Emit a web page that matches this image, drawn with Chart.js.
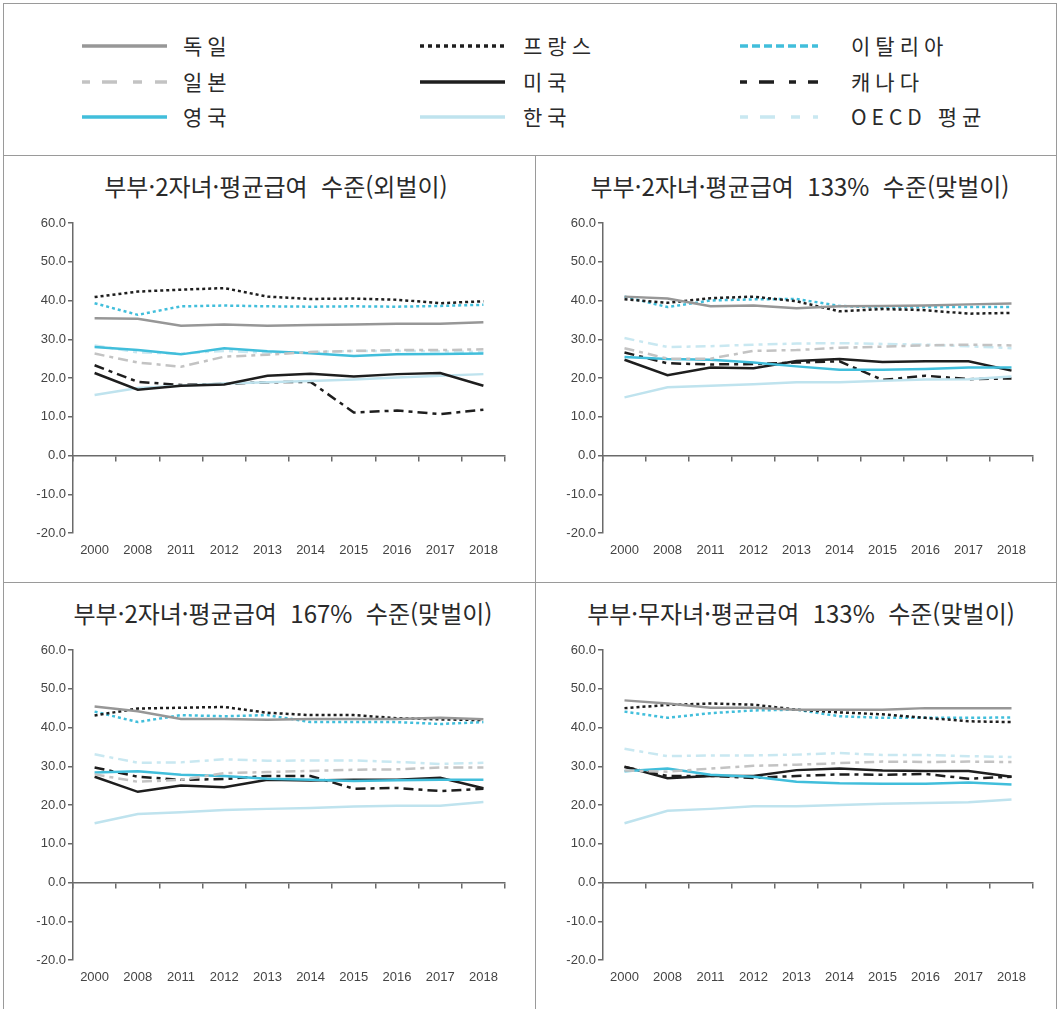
<!DOCTYPE html>
<html lang="ko">
<head>
<meta charset="utf-8">
<script src="https://cdn.jsdelivr.net/npm/chart.js@4.4.1/dist/chart.umd.min.js"></script>
<style>
  body { margin: 0; background: #fff; width: 1060px; height: 1009px; overflow: hidden; position: relative; font-family: "Noto Sans CJK KR", sans-serif; color: #2a2a2a; }
  .line { position: absolute; background: #9a9a9a; }
  .sw { position: absolute; }
  .lbl { position: absolute; font-size: 21px; letter-spacing: 5px; line-height: 30px; white-space: pre; }
  .title { position: absolute; font-size: 24px; white-space: pre; transform: translate(-50%, -50%); }
  .panel { position: absolute; }
</style>
</head>
<body>
<div class="line" style="left:3px;top:3px;width:1054px;height:1px"></div>
<div class="line" style="left:3px;top:3px;width:1px;height:1010px"></div>
<div class="line" style="left:1056px;top:3px;width:1px;height:1010px"></div>
<div class="line" style="left:3px;top:155px;width:1054px;height:1px"></div>
<div class="line" style="left:3px;top:582px;width:1054px;height:1px"></div>
<div class="line" style="left:535px;top:155px;width:1px;height:860px"></div>
<div id="legend"></div>

<script>
// ===== DADOS =====
const years = ['2000', '2008', '2011', '2012', '2013', '2014', '2015', '2016', '2017', '2018'];
const seriesNames = ['독일', '일본', '영국', '프랑스', '미국', '한국', '이탈리아', '캐나다', 'OECD 평균'];
const titles = [
  '부부·2자녀·평균급여  수준(외벌이)',
  '부부·2자녀·평균급여  133%  수준(맞벌이)',
  '부부·2자녀·평균급여  167%  수준(맞벌이)',
  '부부·무자녀·평균급여  133%  수준(맞벌이)'
];

// uma linha por painel (1..4)
const germany = [
  [35.4, 35.3, 33.5, 33.8, 33.5, 33.7, 33.8, 34.0, 34.0, 34.4],
  [41.0, 40.5, 38.5, 38.7, 38.0, 38.5, 38.6, 38.7, 39.0, 39.2],
  [45.4, 44.2, 42.2, 42.2, 42.0, 42.2, 42.2, 42.2, 42.5, 42.1],
  [47.0, 46.2, 45.1, 45.1, 44.6, 44.6, 44.6, 45.0, 45.0, 45.0]
];
const japan = [
  [26.3, 24.0, 22.9, 25.5, 26.0, 26.7, 27.0, 27.2, 27.2, 27.4],
  [27.7, 25.0, 25.0, 27.0, 27.2, 27.8, 28.1, 28.4, 28.6, 28.4],
  [27.9, 26.0, 26.5, 28.2, 28.5, 28.8, 29.1, 29.2, 29.7, 29.7],
  [28.9, 28.6, 29.4, 30.1, 30.4, 30.8, 31.2, 31.1, 31.2, 31.1]
];
const uk = [
  [28.0, 27.2, 26.1, 27.7, 26.9, 26.4, 25.7, 26.1, 26.2, 26.3],
  [25.4, 24.9, 24.7, 24.0, 23.0, 22.1, 22.1, 22.3, 22.7, 22.7],
  [28.4, 28.7, 27.8, 27.5, 26.8, 26.5, 26.2, 26.4, 26.5, 26.5],
  [28.7, 29.4, 27.8, 27.3, 26.0, 25.6, 25.5, 25.5, 25.8, 25.3]
];
const france = [
  [40.9, 42.3, 42.8, 43.2, 41.0, 40.4, 40.5, 40.2, 39.3, 39.8],
  [40.3, 39.4, 40.6, 41.0, 39.8, 37.2, 37.8, 37.5, 36.6, 36.8],
  [43.1, 44.9, 45.1, 45.3, 43.8, 43.2, 43.2, 42.4, 42.1, 41.9],
  [45.0, 45.8, 46.2, 45.9, 44.6, 43.9, 43.4, 42.5, 41.6, 41.4]
];
const usa = [
  [21.3, 17.0, 18.0, 18.3, 20.6, 21.1, 20.4, 21.0, 21.3, 18.0],
  [24.7, 20.7, 22.7, 22.5, 24.4, 24.9, 24.1, 24.3, 24.3, 21.9],
  [27.3, 23.4, 25.0, 24.6, 26.5, 26.3, 26.5, 26.5, 27.0, 24.3],
  [29.9, 26.9, 27.5, 27.5, 29.0, 29.4, 28.9, 28.8, 28.8, 27.3]
];
const korea = [
  [15.6, 17.4, 18.0, 18.6, 18.9, 19.2, 19.6, 20.1, 20.6, 21.0],
  [15.0, 17.6, 18.0, 18.4, 18.9, 18.9, 19.3, 19.6, 19.7, 20.4],
  [15.3, 17.7, 18.1, 18.7, 19.0, 19.2, 19.6, 19.8, 19.8, 20.8],
  [15.3, 18.5, 19.0, 19.7, 19.7, 20.0, 20.3, 20.5, 20.7, 21.4]
];
const italy = [
  [39.3, 36.3, 38.5, 38.7, 38.5, 38.4, 38.5, 38.4, 38.6, 38.9],
  [41.0, 38.3, 40.0, 40.3, 40.4, 38.6, 38.2, 38.3, 38.3, 38.3],
  [44.1, 41.4, 43.2, 42.9, 43.2, 41.4, 41.4, 41.4, 40.9, 41.4],
  [44.1, 42.5, 43.7, 44.4, 44.6, 42.9, 42.5, 42.5, 42.5, 42.6]
];
const canada = [
  [23.3, 19.0, 18.2, 18.5, 18.9, 19.0, 11.1, 11.6, 10.7, 11.8],
  [26.6, 23.8, 23.5, 23.6, 24.0, 24.3, 19.5, 20.6, 19.7, 19.9],
  [29.7, 27.3, 26.5, 26.7, 27.5, 27.5, 24.2, 24.4, 23.6, 24.2],
  [29.8, 27.5, 27.5, 27.0, 27.5, 27.9, 27.8, 28.0, 26.8, 27.3]
];
const oecd = [
  [28.4, 26.6, 26.3, 27.0, 26.5, 26.7, 27.0, 27.0, 26.9, 26.7],
  [30.3, 28.0, 28.2, 28.6, 28.9, 29.0, 28.8, 28.6, 28.2, 27.7],
  [33.1, 30.9, 31.0, 31.8, 31.4, 31.5, 31.5, 31.1, 30.6, 30.9],
  [34.5, 32.6, 32.8, 32.8, 33.0, 33.4, 32.9, 32.9, 32.6, 32.4]
];
const allSeries = [germany, japan, uk, france, usa, korea, italy, canada, oecd];

// ===== ESTILOS =====
const colors = ['#979797', '#c3c3c3', '#41bedb', '#1e1e1e', '#1e1e1e', '#bfe3ee', '#41bedb', '#1e1e1e', '#c9e8f1'];
const dashes = [[], [10, 5, 4, 5], [], [3, 3], [], [], [3, 3], [10, 5, 4, 5], [10, 5, 4, 5]];
const legendDashes = [[], [8, 12, 15, 16, 9, 13, 12], [], [4, 4], [], [], [8, 4], [7, 12, 15, 15, 7, 12, 12], [8, 12, 15, 16, 9, 13, 12]];

// posições dos painéis
const panels = [
  { left: 4, top: 156, w: 531, h: 426, yW: 69, rPad: 30, tx: 276, ty: 185 },
  { left: 536, top: 156, w: 520, h: 426, yW: 67, rPad: 23, tx: 800, ty: 185 },
  { left: 4, top: 583, w: 531, h: 426, yW: 69, rPad: 30, tx: 283, ty: 612 },
  { left: 536, top: 583, w: 520, h: 426, yW: 67, rPad: 23, tx: 801, ty: 612 }
];

// ===== LEGENDA =====
const legendCols = [[82, 167, 183], [420, 505, 523], [740, 818, 851]];
const legendRows = [46, 82, 117];
document.getElementById('legend').innerHTML = seriesNames.map((n, k) => {
  const col = legendCols[Math.floor(k / 3)], y = legendRows[k % 3];
  const w = col[1] - col[0];
  return '<svg class=sw style="left:' + col[0] + 'px;top:' + (y - 3) + 'px" width="' + w + '" height="6">' +
      '<line x1="0" y1="3" x2="' + w + '" y2="3" stroke="' + colors[k] + '" stroke-width="3.5"' +
      (legendDashes[k].length ? ' stroke-dasharray="' + legendDashes[k].join(',') + '"' : '') + '/></svg>' +
    '<div class=lbl style="left:' + col[2] + 'px;top:' + (y - 16) + 'px">' + n + '</div>';
}).join('');

// ===== GRÁFICOS =====
const tickFont = { family: '"Liberation Sans", sans-serif', size: 13 };
const axisColor = '#6a6a6a';

panels.forEach((p, i) => {
  const t = document.createElement('div');
  t.className = 'title';
  t.style.left = p.tx + 'px';
  t.style.top = p.ty + 'px';
  t.textContent = titles[i];
  document.body.appendChild(t);

  const c = document.createElement('canvas');
  c.className = 'panel';
  c.width = p.w; c.height = p.h;
  c.style.left = p.left + 'px';
  c.style.top = p.top + 'px';
  document.body.appendChild(c);

  new Chart(c, {
    type: 'line',
    data: {
      labels: years,
      datasets: allSeries.map((s, k) => ({
        label: seriesNames[k], data: s[i], xAxisID: 'x', yAxisID: 'y',
        borderColor: colors[k], borderDash: dashes[k], borderWidth: 2.5,
        pointRadius: 0, tension: 0, fill: false
      }))
    },
    options: {
      responsive: false, animation: false,
      layout: { padding: { left: 0, right: p.rPad, top: 67, bottom: 0 } },
      plugins: { legend: { display: false }, tooltip: { enabled: false } },
      scales: {
        x: {
          offset: true,
          grid: { display: false, drawTicks: false }, border: { display: false },
          ticks: { font: tickFont, color: '#444', padding: 10, maxRotation: 0, autoSkip: false },
          afterFit(s) { s.height = 49; }
        },
        x0: {
          axis: 'x', type: 'category', labels: years, position: { y: 0 }, offset: true,
          grid: { drawOnChartArea: false, tickLength: 5, color: axisColor, lineWidth: 1.5, offset: true },
          border: { color: axisColor, width: 1.5 },
          ticks: { display: false },
          afterFit(s) { s.height = 0; }
        },
        y: {
          min: -20, max: 60,
          ticks: { stepSize: 10, callback: v => v.toFixed(1), font: tickFont, color: '#444', padding: 2 },
          grid: { drawOnChartArea: false, tickLength: 5, color: axisColor, lineWidth: 1.5 },
          border: { color: axisColor, width: 1.5 },
          afterFit(s) { s.width = p.yW; }
        }
      }
    }
  });
});
</script>
</body>
</html>
